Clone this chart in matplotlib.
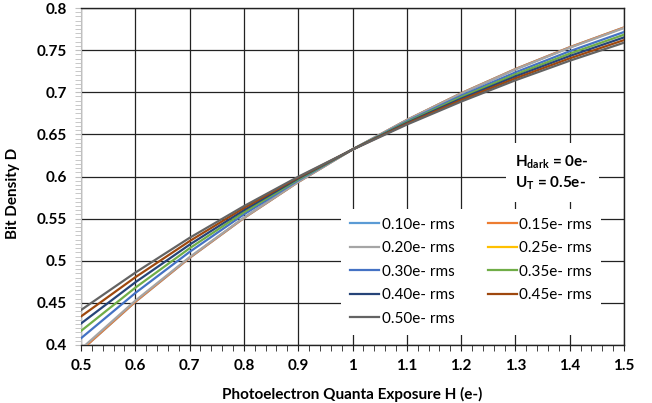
import matplotlib

matplotlib.use("Agg")

import matplotlib.pyplot as plt
from matplotlib.lines import Line2D
from matplotlib.ticker import MultipleLocator

# exposure H (e-) and bit density D for each read-noise level
exposure = [0.5, 0.6, 0.7, 0.8, 0.9, 1.0, 1.1, 1.2, 1.3, 1.4, 1.5]
x_ticklabels = ["0.5", "0.6", "0.7", "0.8", "0.9", "1", "1.1", "1.2", "1.3", "1.4", "1.5"]
y_ticks = [0.4, 0.45, 0.5, 0.55, 0.6, 0.65, 0.7, 0.75, 0.8]
y_ticklabels = ["0.4", "0.45", "0.5", "0.55", "0.6", "0.65", "0.7", "0.75", "0.8"]
noise_labels = ["0.10e- rms", "0.15e- rms", "0.20e- rms", "0.25e- rms", "0.30e- rms",
                "0.35e- rms", "0.40e- rms", "0.45e- rms", "0.50e- rms"]
d_010 = [0.3935, 0.4512, 0.5034, 0.5507, 0.5934, 0.6321, 0.6671, 0.6988, 0.7275, 0.7534, 0.7769]
d_015 = [0.3936, 0.4513, 0.5035, 0.5507, 0.5934, 0.6321, 0.6671, 0.6988, 0.7275, 0.7534, 0.7769]
d_020 = [0.3953, 0.4526, 0.5043, 0.5512, 0.5937, 0.6321, 0.6669, 0.6984, 0.7270, 0.7528, 0.7762]
d_025 = [0.4004, 0.4562, 0.5068, 0.5527, 0.5944, 0.6321, 0.6664, 0.6974, 0.7256, 0.7512, 0.7743]
d_030 = [0.4080, 0.4617, 0.5105, 0.5550, 0.5954, 0.6321, 0.6655, 0.6959, 0.7236, 0.7487, 0.7715]
d_035 = [0.4167, 0.4680, 0.5148, 0.5576, 0.5965, 0.6321, 0.6646, 0.6942, 0.7212, 0.7458, 0.7683]
d_040 = [0.4255, 0.4744, 0.5191, 0.5601, 0.5977, 0.6321, 0.6636, 0.6924, 0.7188, 0.7430, 0.7651]
d_045 = [0.4339, 0.4804, 0.5233, 0.5626, 0.5988, 0.6320, 0.6626, 0.6907, 0.7165, 0.7402, 0.7619]
d_050 = [0.4415, 0.4859, 0.5272, 0.5648, 0.5997, 0.6319, 0.6616, 0.6889, 0.7142, 0.7374, 0.7588]
series = [d_010, d_015, d_020, d_025, d_030, d_035, d_040, d_045, d_050]

colors = ["#5B9BD5", "#ED7D31", "#A5A5A5", "#FFC000", "#4472C4",
          "#70AD47", "#264478", "#9E480E", "#636363"]
# the 0.25e- curve does not show up in the original plot, only in its legend
shown = [True, True, True, False, True, True, True, True, True]

plt.rcParams["font.family"] = ["Lato", "DejaVu Sans"]
plt.rcParams["mathtext.fontset"] = "custom"
plt.rcParams["mathtext.rm"] = "Lato"
plt.rcParams["mathtext.bf"] = "Lato:bold"

fig = plt.figure(figsize=(6.52, 4.03), dpi=100)
ax = fig.add_axes([81 / 652, 1 - 345 / 403, 543 / 652, 337 / 403])

handles = []
for vals, lab, col, vis in zip(series, noise_labels, colors, shown):
    if vis:
        ax.plot(exposure, vals, color=col, lw=1.6, zorder=3)
    handles.append(Line2D([], [], color=col, lw=1.6))

ax.set_xlim(0.5, 1.5)
ax.set_ylim(0.4, 0.8)
ax.set_xticks(exposure)
ax.set_xticklabels(x_ticklabels)
ax.set_yticks(y_ticks)
ax.set_yticklabels(y_ticklabels)
ax.xaxis.set_minor_locator(MultipleLocator(0.02))
ax.yaxis.set_minor_locator(MultipleLocator(0.005))
ax.grid(True, which="major", color="#222222", lw=0.9, zorder=1)
ax.set_axisbelow(True)

for lbl in ax.get_xticklabels() + ax.get_yticklabels():
    lbl.set_fontweight("bold")
    lbl.set_fontsize(11)
ax.tick_params(axis="x", which="both", direction="out", length=4, color="#222222", pad=6)
ax.tick_params(axis="y", which="both", direction="out", length=4, color="#bfbfbf", pad=6)

ax.spines["left"].set_color("#bfbfbf")
for side in ("top", "right", "bottom"):
    ax.spines[side].set_color("#222222")
    ax.spines[side].set_linewidth(1.0)

ax.set_xlabel("Photoelectron Quanta Exposure H (e-)", fontsize=11, fontweight="bold")
ax.xaxis.set_label_coords(0.5, -0.125)
ax.set_ylabel("Bit Density D", fontsize=11, fontweight="bold")
ax.yaxis.set_label_coords(-0.112, 0.45)

ax.text(0.80, 0.512, "H$_{\\mathbf{dark}}$ = 0e-\nU$_{\\mathbf{T}}$ = 0.5e-",
        transform=ax.transAxes, fontsize=11, fontweight="bold", va="center", ha="left",
        linespacing=1.25, zorder=5,
        bbox=dict(facecolor="white", edgecolor="none", pad=7))

# legend filled row by row like the original
order = [0, 2, 4, 6, 8, 1, 3, 5, 7]
leg = ax.legend([handles[i] for i in order], [noise_labels[i] for i in order],
                ncol=2, loc="lower right", bbox_to_anchor=(0.958, 0.03),
                borderaxespad=0, fontsize=11, frameon=True, fancybox=False,
                framealpha=1, edgecolor="none", handlelength=1.9, handletextpad=0.15,
                columnspacing=2.2, labelspacing=0.62, borderpad=0.6)
leg.set_zorder(6)

fig.savefig("out.png", dpi=100)
